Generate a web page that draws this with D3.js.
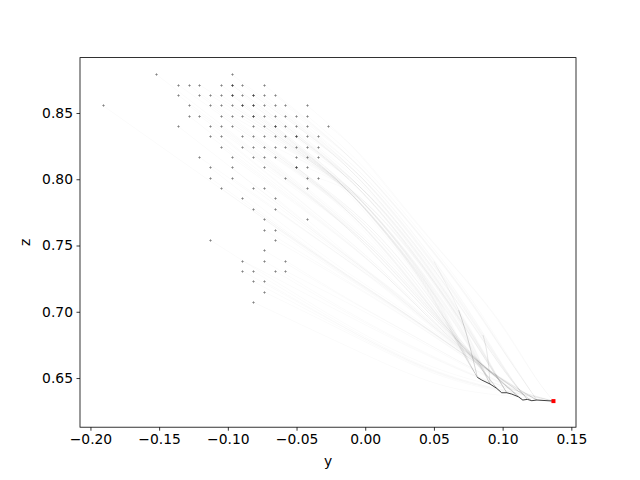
<!DOCTYPE html>
<html><head><meta charset="utf-8">
<script src="https://cdn.jsdelivr.net/npm/d3@7"></script>
<style>body{margin:0;background:#fff} svg{display:block} text{font-family:"DejaVu Sans",sans-serif}</style>
</head><body><svg id="c" width="640" height="480"></svg>
<script>
// ---------------- data ----------------
const xTicks = [-0.20, -0.15, -0.10, -0.05, 0.00, 0.05, 0.10, 0.15];
const zTicks = [0.65, 0.70, 0.75, 0.80, 0.85];
const xLimits = [-0.2076, 0.1534];
const zLimits = [0.6129, 0.8918];

// start points: one z value per row, list of y values in that row (duplicates = overlapping starts)
const gridRowsZ = [0.8792, 0.8714, 0.8636, 0.8558, 0.8480, 0.8401, 0.8323, 0.8245, 0.8167, 0.8089,
  0.8011, 0.7933, 0.7855, 0.7776, 0.7698, 0.7620, 0.7542, 0.7464, 0.7386, 0.7308, 0.7230, 0.7151, 0.7073];
const gridRowsY = [
  [-0.1521, -0.0973],
  [-0.1364, -0.1286, -0.1208, -0.1051, -0.0973, -0.0973, -0.0894, -0.0738],
  [-0.1364, -0.1208, -0.1129, -0.1051, -0.0973, -0.0973, -0.0894, -0.0816, -0.0816, -0.0738, -0.0659],
  [-0.1912, -0.1286, -0.1129, -0.1051, -0.0973, -0.0894, -0.0894, -0.0816, -0.0816, -0.0738, -0.0659, -0.0581, -0.0424],
  [-0.1286, -0.1208, -0.1051, -0.0973, -0.0894, -0.0816, -0.0816, -0.0738, -0.0659, -0.0581, -0.0503, -0.0424],
  [-0.1364, -0.1129, -0.1051, -0.0973, -0.0816, -0.0738, -0.0659, -0.0659, -0.0581, -0.0503, -0.0424, -0.0268],
  [-0.1129, -0.1051, -0.0894, -0.0816, -0.0738, -0.0659, -0.0581, -0.0503, -0.0503, -0.0424, -0.0346],
  [-0.1051, -0.0894, -0.0816, -0.0738, -0.0659, -0.0581, -0.0503, -0.0424, -0.0346],
  [-0.1208, -0.0973, -0.0816, -0.0738, -0.0659, -0.0503, -0.0424, -0.0346],
  [-0.1129, -0.0973, -0.0738, -0.0503, -0.0503, -0.0424],
  [-0.1129, -0.0973, -0.0581, -0.0424, -0.0346],
  [-0.1051, -0.0816, -0.0738, -0.0424],
  [-0.0894, -0.0659],
  [-0.0816, -0.0659],
  [-0.0738, -0.0424],
  [-0.0738, -0.0659],
  [-0.1129, -0.0659],
  [-0.0738],
  [-0.0894, -0.0738, -0.0581],
  [-0.0894, -0.0816, -0.0659, -0.0581],
  [-0.0816, -0.0738],
  [-0.0738],
  [-0.0816]
];

// end point of all trajectories
const endPoint = [0.1370, 0.6326];

// the converged (dark) part of the trajectories
const darkPath = [[0.0816, 0.6505], [0.0848, 0.6485], [0.0908, 0.6455], [0.0957, 0.6422], [0.0993, 0.6389],
  [0.1030, 0.6389], [0.1066, 0.6379], [0.1114, 0.6359], [0.1147, 0.6334], [0.1180, 0.6339],
  [0.1212, 0.6329], [0.1249, 0.6334], [0.1370, 0.6326]];
const grayLineATop = [[0.0500, 0.7380], [0.0600, 0.7190], [0.0680, 0.7013]];
const grayLineA = [[0.0680, 0.7013], [0.0738, 0.6837], [0.0790, 0.6620], [0.0816, 0.6505]];
const grayLineB = [[0.0857, 0.6825], [0.0886, 0.6711], [0.0900, 0.6580], [0.0908, 0.6455]];

// trajectory routes (waypoints after the start point), upper-right to lower; each ends on the converged path
const routes = [
  [[-0.004, 0.826], [0.028, 0.784], [0.062, 0.741], [0.088, 0.712], [0.106, 0.690], [0.117, 0.672], [0.125, 0.654], [0.132, 0.639], [0.137, 0.6326]],
  [[0.000, 0.816], [0.035, 0.776], [0.070, 0.732], [0.095, 0.695], [0.110, 0.665], [0.120, 0.645], [0.1249, 0.6334]],
  [[0.000, 0.810], [0.035, 0.770], [0.068, 0.725], [0.090, 0.688], [0.104, 0.660], [0.112, 0.642], [0.1180, 0.6339]],
  [[0.000, 0.802], [0.035, 0.764], [0.064, 0.722], [0.084, 0.686], [0.096, 0.658], [0.1030, 0.6389]],
  [[0.000, 0.792], [0.030, 0.758], [0.056, 0.724], [0.0680, 0.7013], [0.0738, 0.6837], [0.0790, 0.6620], [0.0816, 0.6505]],
  [[0.000, 0.796], [0.035, 0.760], [0.064, 0.722], [0.0820, 0.6920], [0.0857, 0.6825], [0.0886, 0.6711], [0.0900, 0.6580], [0.0908, 0.6455]],
  [[0.000, 0.776], [0.030, 0.745], [0.055, 0.710], [0.072, 0.680], [0.086, 0.660], [0.0957, 0.6422]],
  [[0.000, 0.760], [0.030, 0.730], [0.055, 0.697], [0.076, 0.670], [0.095, 0.650], [0.1114, 0.6359]],
  [[0.000, 0.745], [0.035, 0.715], [0.060, 0.686], [0.082, 0.662], [0.102, 0.646], [0.1147, 0.6334]],
  [[0.000, 0.730], [0.035, 0.705], [0.065, 0.676], [0.090, 0.654], [0.110, 0.640], [0.1212, 0.6329]],
  [[0.000, 0.715], [0.040, 0.690], [0.075, 0.665], [0.100, 0.646], [0.118, 0.636], [0.1249, 0.6334]],
  [[0.000, 0.700], [0.050, 0.672], [0.090, 0.648], [0.115, 0.637], [0.1249, 0.6334]],
  [[0.000, 0.688], [0.050, 0.660], [0.090, 0.641], [0.115, 0.634], [0.1370, 0.6326]],
  [[0.000, 0.675], [0.060, 0.640], [0.100, 0.630], [0.125, 0.631], [0.1370, 0.6326]],
  [[0.000, 0.664], [0.069, 0.628], [0.100, 0.6256], [0.125, 0.629], [0.1370, 0.6326]]
];

// ---------------- drawing ----------------
const svg = d3.select("#c");
const W = 640, H = 480;
const L = 80, R = 576, T = 57.6, B = 427.2;
const x = d3.scaleLinear().domain(xLimits).range([L, R]);
const z = d3.scaleLinear().domain(zLimits).range([B, T]);

svg.append("rect").attr("width", W).attr("height", H).attr("fill", "#fff");

svg.append("defs").append("clipPath").attr("id", "clip")
  .append("rect").attr("x", L).attr("y", T).attr("width", R - L).attr("height", B - T);
const plot = svg.append("g").attr("clip-path", "url(#clip)");

const starts = [];
gridRowsZ.forEach((zz, i) => gridRowsY[i].forEach(yy => starts.push([yy, zz])));

// route choice for each start: higher / further right starts follow upper routes
const routeScale = d3.scaleLinear().domain([0.822, 0.745, 0.64]).range([0, 8, routes.length - 1]).clamp(true);
function routeIndex(p) {
  return Math.round(routeScale(p[1] + 0.8 * p[0]));
}

const line = d3.line().x(d => x(d[0])).y(d => z(d[1])).curve(d3.curveBundle.beta(0.65));
const lineBasis = d3.line().x(d => x(d[0])).y(d => z(d[1])).curve(d3.curveBasis);
const lineLin = d3.line().x(d => x(d[0])).y(d => z(d[1]));

plot.append("g").selectAll("path").data(starts).join("path")
  .attr("d", p => line([p].concat(routes[routeIndex(p)])))
  .attr("fill", "none").attr("stroke", "#000").attr("stroke-opacity", 0.026).attr("stroke-width", 0.8);

plot.append("path").attr("d", lineBasis(grayLineATop))
  .attr("fill", "none").attr("stroke", "#000").attr("stroke-opacity", 0.07).attr("stroke-width", 0.8);
plot.append("path").attr("d", lineBasis(grayLineA))
  .attr("fill", "none").attr("stroke", "#000").attr("stroke-opacity", 0.2).attr("stroke-width", 0.8);
plot.append("path").attr("d", lineBasis(grayLineB))
  .attr("fill", "none").attr("stroke", "#000").attr("stroke-opacity", 0.12).attr("stroke-width", 0.8);
plot.append("path").attr("d", lineLin(darkPath))
  .attr("fill", "none").attr("stroke", "#000").attr("stroke-opacity", 0.75).attr("stroke-width", 1);

// start markers '+'
plot.append("g").selectAll("path.m").data(starts).join("path")
  .attr("d", p => {
    const cx = Math.round(x(p[0])) + 0.5, cy = Math.round(z(p[1])) + 0.5;
    return `M${cx - 1.5},${cy}H${cx + 1.5}M${cx},${cy - 1.5}V${cy + 1.5}`;
  })
  .attr("fill", "none").attr("stroke", "#000").attr("stroke-opacity", 0.28).attr("stroke-width", 1);

// end marker
plot.append("rect")
  .attr("x", x(endPoint[0]) - 2).attr("y", z(endPoint[1]) - 2).attr("width", 4).attr("height", 4)
  .attr("fill", "#ff0000");

// axes
const fmt = d3.format(".2f");
const gx = svg.append("g").attr("transform", `translate(0,${B})`)
  .call(d3.axisBottom(x).tickValues(xTicks).tickSize(3.5).tickPadding(3.5).tickFormat(fmt));
const gy = svg.append("g").attr("transform", `translate(${L},0)`)
  .call(d3.axisLeft(z).tickValues(zTicks).tickSize(3.5).tickPadding(3.5).tickFormat(fmt));
[gx, gy].forEach(g => {
  g.select(".domain").remove();
  g.selectAll(".tick line").attr("stroke", "#000").attr("stroke-width", 0.8);
  g.selectAll(".tick text").attr("fill", "#000").style("font-size", "13.89px").style("font-family", "DejaVu Sans");
});

svg.append("rect").attr("x", L).attr("y", T).attr("width", R - L).attr("height", B - T)
  .attr("fill", "none").attr("stroke", "#000").attr("stroke-width", 0.8);

svg.append("text").attr("x", (L + R) / 2).attr("y", 466).attr("text-anchor", "middle")
  .style("font-size", "13.89px").text("y");
svg.append("text").attr("transform", `translate(30,${(T + B) / 2}) rotate(-90)`).attr("text-anchor", "middle")
  .style("font-size", "13.89px").text("z");
</script></body></html>
